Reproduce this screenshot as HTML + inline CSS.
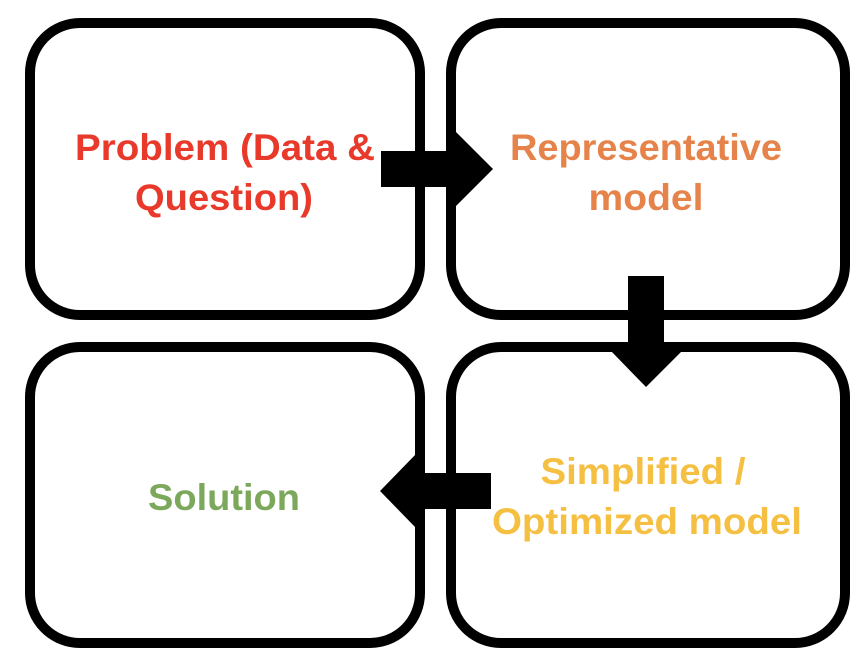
<!DOCTYPE html>
<html><head><style>html,body{margin:0;padding:0;background:#fff;}svg{display:block}</style></head>
<body>
<svg width="868" height="666" viewBox="0 0 868 666" xmlns="http://www.w3.org/2000/svg">
<g fill="none" stroke="#000" stroke-width="10">
<rect x="30" y="23" width="390" height="292" rx="50"/>
<rect x="451" y="23" width="394" height="292" rx="50"/>
<rect x="30" y="347" width="390" height="296" rx="50"/>
<rect x="451" y="347" width="394" height="296" rx="50"/>
</g>
<g fill="#000">
<polygon points="381,151 456,151 456,132 493,169 456,206 456,187 381,187"/>
<polygon points="628,276 664,276 664,350 683,350 646,387 610,350 628,350"/>
<polygon points="491,473 416,473 416,454 380,491 416,528 416,509 491,509"/>
</g>
<g font-family="Liberation Sans, sans-serif" font-weight="bold" font-size="37" text-anchor="middle">
<text x="225" y="160" fill="#E8392A" textLength="300" lengthAdjust="spacingAndGlyphs">Problem (Data &amp;</text>
<text x="224" y="210" fill="#E8392A" textLength="178" lengthAdjust="spacingAndGlyphs">Question)</text>
<text x="646" y="160" fill="#E6834A" textLength="272" lengthAdjust="spacingAndGlyphs">Representative</text>
<text x="646" y="210" fill="#E6834A" textLength="115" lengthAdjust="spacingAndGlyphs">model</text>
<text x="643" y="484" fill="#F5BF42" textLength="205" lengthAdjust="spacingAndGlyphs">Simplified /</text>
<text x="647" y="534" fill="#F5BF42" textLength="310" lengthAdjust="spacingAndGlyphs">Optimized model</text>
<text x="224" y="510" fill="#7BA85A" textLength="152" lengthAdjust="spacingAndGlyphs">Solution</text>
</g>
</svg>
</body></html>
